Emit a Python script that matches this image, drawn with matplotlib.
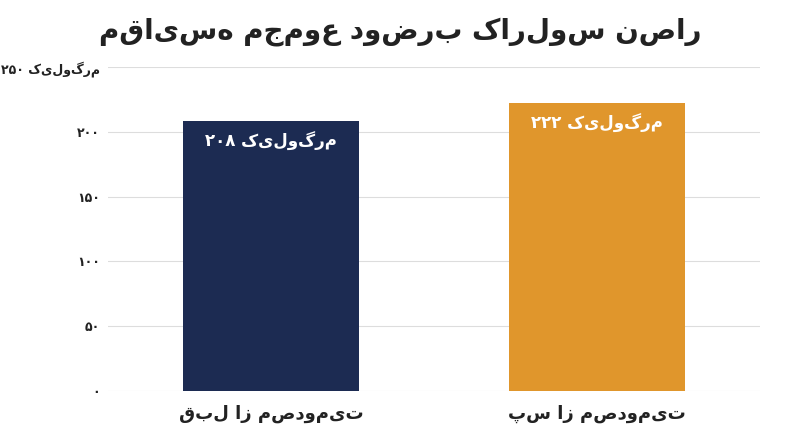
import matplotlib
matplotlib.use("Agg")
import matplotlib.pyplot as plt

plt.rcParams['font.family'] = ['DejaVu Sans']

categories = ["قبل از مصدومیت", "پس از مصدومیت"]
values = [208, 222]
value_labels = ["۲۰۸ کیلوگرم", "۲۲۲ کیلوگرم"]
tick_vals = [0, 50, 100, 150, 200, 250]
tick_labels = ["۰", "۵۰", "۱۰۰", "۱۵۰", "۲۰۰", "۲۵۰ کیلوگرم"]
title = "مقایسه مجموع دوضرب کارلوس نصار"
colors = ["#1c2b52", "#e0962c"]

fig = plt.figure(figsize=(8, 4.47), dpi=100)
ax = fig.add_axes([0.135, 0.125, 0.815, 0.725])
x = [0, 1]
ax.bar(x, values, width=0.54, color=colors, zorder=3)
for xi, v, lab in zip(x, values, value_labels):
    ax.text(xi, v - 8, lab, ha='center', va='top', color='white', fontsize=12, fontweight='bold', zorder=4)
ax.set_ylim(0, 250)
ax.set_xlim(-0.5, 1.5)
ax.set_yticks(tick_vals)
ax.set_yticklabels(tick_labels, fontsize=9, fontweight='bold', color='#222222')
ax.set_xticks(x)
ax.set_xticklabels(categories, fontsize=13, fontweight='bold', color='#222222')
ax.tick_params(axis='y', length=0, pad=6)
ax.tick_params(axis='x', length=0, pad=10)
ax.grid(axis='y', color='#dddddd', linewidth=0.8, zorder=0)
for s in ax.spines.values():
    s.set_visible(False)
fig.text(0.5, 0.93, title, ha='center', va='center', fontsize=20, fontweight='bold', color='#222222')
fig.savefig("out.png", dpi=100)
